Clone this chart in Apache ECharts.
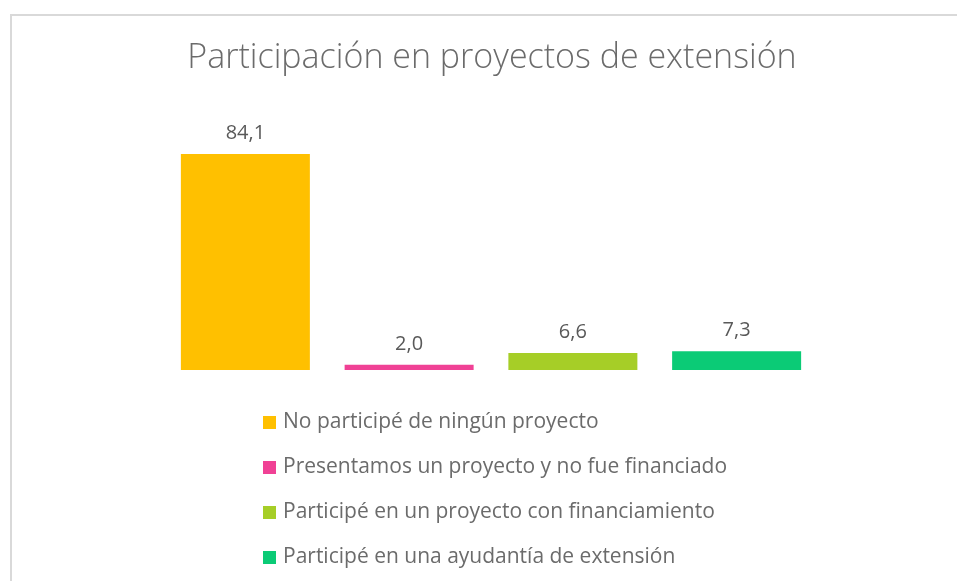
<!DOCTYPE html>
<html>
<head>
<meta charset="utf-8">
<script src="https://cdn.jsdelivr.net/npm/echarts@6/dist/echarts.min.js"></script>
<style>
  html, body { margin: 0; padding: 0; background: #fff; }
  #chart { position: absolute; left: 0; top: 0; width: 957px; height: 581px; }
  /* marco gris del gráfico (solo arriba e izquierda visibles) */
  #frame {
    position: absolute; left: 10px; top: 14px; width: 947px; height: 567px;
    border-top: 2px solid #d9d9d9; border-left: 2px solid #d9d9d9;
    box-sizing: border-box; pointer-events: none;
  }
</style>
</head>
<body>
<div id="chart"></div>
<div id="frame"></div>
<script>
// ---- datos ----
const categories = [
  'No participé de ningún proyecto',
  'Presentamos un proyecto y no fue financiado',
  'Participé en un proyecto con financiamiento',
  'Participé en una ayudantía de extensión',
]
const values = [84.1, 2.0, 6.6, 7.3]
const colors = ['#ffc000', '#f04195', '#a6ce27', '#0bcb76']

const TEXT = '#6b6b6b'
const FONT = '"Open Sans", Lato, sans-serif'

// una serie por categoría para que aparezca en la leyenda
const series = categories.map((name, i) => ({
  name,
  type: 'bar',
  data: values.map((v, j) => (j === i ? v : null)),
  barWidth: 129,
  barGap: '-100%',
  itemStyle: { color: colors[i] },
  label: {
    show: true,
    position: 'top',
    distance: 11,
    color: '#595959',
    fontFamily: FONT,
    fontSize: 20,
    formatter: (p) => p.value.toFixed(1).replace('.', ','),
  },
  animation: false,
}))

const chart = echarts.init(document.getElementById('chart'))
chart.setOption({
  backgroundColor: 'transparent',
  title: {
    text: 'Participación en proyectos de extensión',
    left: 487,
    textAlign: 'center',
    top: 36,
    textStyle: { color: TEXT, fontFamily: FONT, fontWeight: 300, fontSize: 34 },
  },
  legend: {
    orient: 'vertical',
    left: 258,
    top: 407,
    icon: 'rect',
    itemWidth: 13,
    itemHeight: 13,
    itemGap: 24,
    textStyle: { color: TEXT, fontFamily: FONT, fontSize: 21, lineHeight: 21, padding: [0, 0, 0, 2] },
    data: categories,
  },
  grid: { left: 163.5, right: 138.5, top: 154, bottom: 211 },
  xAxis: {
    type: 'category',
    data: categories,
    axisLine: { show: false },
    axisTick: { show: false },
    axisLabel: { show: false },
  },
  yAxis: {
    type: 'value',
    min: 0,
    max: 'dataMax',
    show: false,
    splitLine: { show: false },
  },
  series,
})
</script>
</body>
</html>
